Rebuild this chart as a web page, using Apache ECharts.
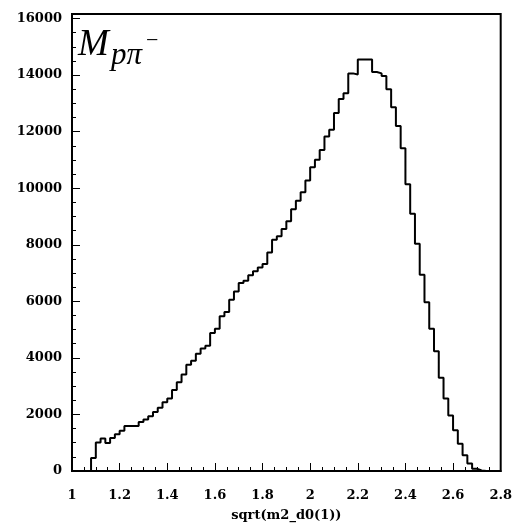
<!DOCTYPE html>
<html>
<head>
<meta charset="utf-8">
<script src="https://cdn.jsdelivr.net/npm/echarts@6/dist/echarts.min.js"></script>
<style>
html,body{margin:0;padding:0;background:#fff;}
#chart{width:515px;height:527px;}
</style>
</head>
<body>
<div id="chart"></div>
<script>
// Histogram bin lower edges (bin width 0.02)
var binLow = [
  1.00,1.02,1.04,1.06,1.08,1.10,1.12,1.14,1.16,1.18,
  1.20,1.22,1.24,1.26,1.28,1.30,1.32,1.34,1.36,1.38,
  1.40,1.42,1.44,1.46,1.48,1.50,1.52,1.54,1.56,1.58,
  1.60,1.62,1.64,1.66,1.68,1.70,1.72,1.74,1.76,1.78,
  1.80,1.82,1.84,1.86,1.88,1.90,1.92,1.94,1.96,1.98,
  2.00,2.02,2.04,2.06,2.08,2.10,2.12,2.14,2.16,2.18,
  2.20,2.22,2.24,2.26,2.28,2.30,2.32,2.34,2.36,2.38,
  2.40,2.42,2.44,2.46,2.48,2.50,2.52,2.54,2.56,2.58,
  2.60,2.62,2.64,2.66,2.68,2.70,2.72,2.74,2.76,2.78
];
var binHighEnd = 2.80;
// Bin contents
var counts = [
  0,0,0,0,460,1010,1150,990,1170,1300,
  1420,1590,1590,1590,1730,1820,1940,2090,2240,2430,
  2560,2860,3140,3410,3760,3900,4150,4330,4430,4880,
  5030,5470,5620,6060,6350,6650,6730,6920,7060,7200,
  7320,7730,8180,8300,8560,8830,9260,9560,9860,10270,
  10745,11010,11355,11825,12070,12660,13150,13360,14060,14020,
  14555,14555,14555,14110,14060,13967,13500,12860,12200,11415,
  10144,9096,8037,6943,5966,5026,4236,3296,2566,1966,
  1437,967,554,261,80,20,0,0,0,0
];
var xTicks = [1, 1.2, 1.4, 1.6, 1.8, 2, 2.2, 2.4, 2.6, 2.8];
var yTicks = [0, 2000, 4000, 6000, 8000, 10000, 12000, 14000, 16000];
var xTitle = 'sqrt(m2_d0(1))';

var stepData = binLow.map(function (x, i) { return [x, counts[i]]; });
stepData.push([binHighEnd, counts[counts.length - 1]]);

var labelFont = {
  color: '#000', fontFamily: 'DejaVu Serif', fontWeight: 'bold', fontSize: 13
};

var chart = echarts.init(document.getElementById('chart'), null, {renderer: 'canvas'});
chart.setOption({
  animation: false,
  backgroundColor: '#fff',
  grid: {
    left: 72, right: 12, top: 14, bottom: 55,
    show: true, borderColor: '#000', borderWidth: 2, backgroundColor: 'transparent'
  },
  xAxis: {
    type: 'value',
    min: xTicks[0], max: xTicks[xTicks.length - 1], interval: 0.2,
    name: xTitle, nameLocation: 'middle', nameGap: 38,
    nameTextStyle: labelFont,
    axisLine: {show: true, onZero: false, lineStyle: {color: '#000', width: 2}},
    axisTick: {show: true, inside: true, length: 8, lineStyle: {color: '#000', width: 1}},
    minorTick: {show: true, splitNumber: 4, length: 4, lineStyle: {color: '#000', width: 1}},
    axisLabel: Object.assign({margin: 18, formatter: function (v) {
      for (var i = 0; i < xTicks.length; i++) if (Math.abs(v - xTicks[i]) < 1e-6) return String(xTicks[i]);
      return '';
    }}, labelFont),
    splitLine: {show: false}
  },
  yAxis: {
    type: 'value',
    min: 0, max: 16160, interval: 2000,
    axisLine: {show: true, lineStyle: {color: '#000', width: 2}},
    axisTick: {show: true, inside: true, length: 8, lineStyle: {color: '#000', width: 1}},
    minorTick: {show: true, splitNumber: 4, length: 4, lineStyle: {color: '#000', width: 1}},
    axisLabel: Object.assign({margin: 10, showMaxLabel: false, formatter: function (v) {
      return yTicks.indexOf(v) >= 0 ? String(v) : '';
    }}, labelFont),
    splitLine: {show: false}
  },
  series: [{
    type: 'line',
    step: 'end',
    data: stepData,
    symbol: 'none',
    lineStyle: {color: '#000', width: 2},
    clip: true
  }],
  graphic: [
    {type: 'text', left: 78, top: 27, z: 10,
     style: {text: 'M', font: 'italic 37px "Liberation Serif"', fill: '#000'}},
    {type: 'text', left: 111, top: 40, z: 10,
     style: {text: 'p\u03c0', font: 'italic 31px "Liberation Serif"', fill: '#000'}},
    {type: 'text', left: 146, top: 30, z: 10,
     style: {text: '\u2212', font: '22px "Liberation Serif"', fill: '#000'}}
  ]
});
</script>
</body>
</html>
